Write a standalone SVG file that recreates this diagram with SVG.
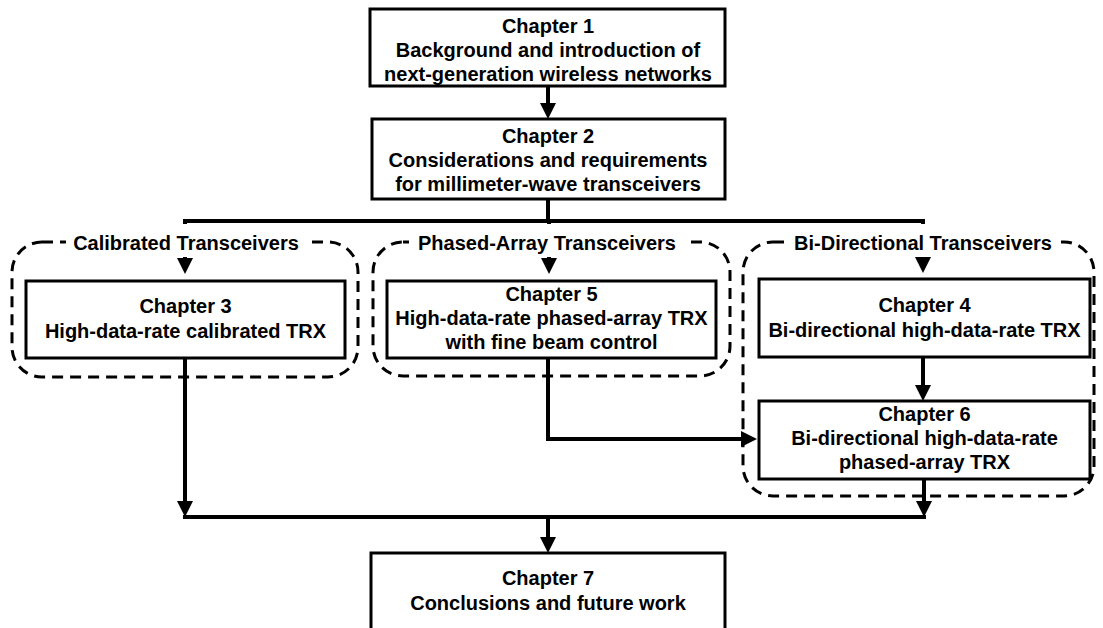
<svg xmlns="http://www.w3.org/2000/svg" width="1103" height="628" viewBox="0 0 1103 628">
<style>
.box{fill:#fff;stroke:#000;stroke-width:3}
.grp{fill:none;stroke:#000;stroke-width:3;stroke-dasharray:11 7}
.lbl{fill:#fff;stroke:none}
.con{fill:none;stroke:#000;stroke-width:4}
.arr{marker-end:url(#ah)}
text{font-family:"Liberation Sans",Arial,Helvetica,sans-serif;font-weight:bold;font-size:20px;fill:#000;text-anchor:middle}
</style>
<defs>
<marker id="ah" markerUnits="userSpaceOnUse" markerWidth="16" markerHeight="16" refX="10" refY="8" orient="auto">
<path d="M0,0 L16,8 L0,16 z" fill="#000"/>
</marker>
</defs>
<g id="connectors">
<line class="con arr" x1="548" y1="86" x2="548" y2="113"/>
<line class="con" x1="548" y1="199" x2="548" y2="221"/>
<line class="con" x1="183" y1="221" x2="925" y2="221"/>
<line class="con arr" x1="185" y1="221" x2="185" y2="268"/>
<line class="con arr" x1="549" y1="221" x2="549" y2="268"/>
<line class="con arr" x1="923" y1="221" x2="923" y2="267"/>
<line class="con arr" x1="923" y1="357" x2="923" y2="395"/>
<polyline class="con arr" points="548,358 548,439 751,439"/>
<line class="con arr" x1="185" y1="358" x2="185" y2="511"/>
<line class="con arr" x1="924" y1="479" x2="924" y2="511"/>
<line class="con" x1="183" y1="517" x2="926" y2="517"/>
<line class="con arr" x1="548" y1="517" x2="548" y2="547"/>
</g>
<g id="group-calibrated">
<rect class="grp" x="12" y="242" width="346" height="135" rx="30"/>
<rect class="lbl" x="66" y="224" width="243" height="33"/>
<text x="186" y="250">Calibrated Transceivers</text>
</g>
<g id="group-phased">
<rect class="grp" x="373" y="242" width="357" height="134" rx="30"/>
<rect class="lbl" x="409" y="224" width="276" height="33"/>
<text x="547" y="250">Phased-Array Transceivers</text>
</g>
<g id="group-bidir">
<rect class="grp" x="743" y="242" width="351" height="254" rx="30"/>
<rect class="lbl" x="786" y="224" width="275" height="33"/>
<text x="923" y="250">Bi-Directional Transceivers</text>
</g>
<g id="ch1">
<rect class="box" x="370" y="9" width="355" height="77"/>
<text x="548" y="33">Chapter 1</text>
<text x="548" y="57">Background and introduction of</text>
<text x="548" y="81">next-generation wireless networks</text>
</g>
<g id="ch2">
<rect class="box" x="372" y="119" width="353" height="80"/>
<text x="548" y="143">Chapter 2</text>
<text x="548" y="167">Considerations and requirements</text>
<text x="548" y="191">for millimeter-wave transceivers</text>
</g>
<g id="ch3">
<rect class="box" x="26" y="281" width="319" height="77"/>
<text x="185.5" y="313">Chapter 3</text>
<text x="185.5" y="338">High-data-rate calibrated TRX</text>
</g>
<g id="ch5">
<rect class="box" x="387" y="281" width="329" height="77"/>
<text x="551.5" y="301">Chapter 5</text>
<text x="551.5" y="325">High-data-rate phased-array TRX</text>
<text x="551.5" y="349">with fine beam control</text>
</g>
<g id="ch4">
<rect class="box" x="759" y="279" width="331" height="78"/>
<text x="924.5" y="312">Chapter 4</text>
<text x="924.5" y="337">Bi-directional high-data-rate TRX</text>
</g>
<g id="ch6">
<rect class="box" x="759" y="401" width="331" height="78"/>
<text x="924.5" y="421">Chapter 6</text>
<text x="924.5" y="445">Bi-directional high-data-rate</text>
<text x="924.5" y="469">phased-array TRX</text>
</g>
<g id="ch7">
<rect class="box" x="371" y="553" width="354" height="90"/>
<text x="548" y="585">Chapter 7</text>
<text x="548" y="610">Conclusions and future work</text>
</g>
</svg>
